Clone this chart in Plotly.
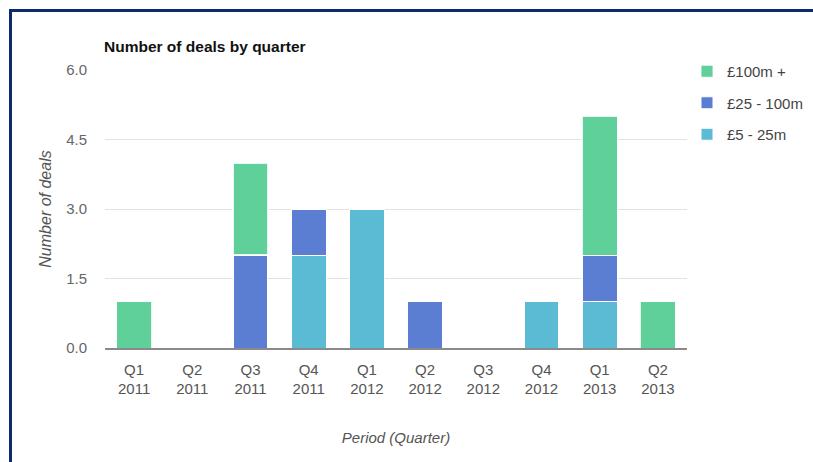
import plotly.graph_objects as go

# Quarterly deal counts split by deal size band
quarters = ["Q1<br>2011", "Q2<br>2011", "Q3<br>2011", "Q4<br>2011", "Q1<br>2012",
            "Q2<br>2012", "Q3<br>2012", "Q4<br>2012", "Q1<br>2013", "Q2<br>2013"]
deals_5_25m = [0, 0, 0, 2, 3, 0, 0, 1, 1, 0]
deals_25_100m = [0, 0, 2, 1, 0, 1, 0, 0, 1, 0]
deals_100m_plus = [1, 0, 2, 0, 0, 0, 0, 0, 3, 1]
y_ticks = [0, 1.5, 3.0, 4.5, 6.0]
y_tick_labels = ["0.0", "1.5", "3.0", "4.5", "6.0"]

GREEN = "#60d09b"
BLUE = "#5b7ed2"
LIGHT_BLUE = "#5bbad4"

fig = go.Figure()
fig.add_trace(go.Bar(x=quarters, y=deals_5_25m, name="£5 - 25m",
                     marker=dict(color=LIGHT_BLUE, line=dict(color="white", width=1)),
                     legendgroup="c", legendrank=3))
fig.add_trace(go.Bar(x=quarters, y=deals_25_100m, name="£25 - 100m",
                     marker=dict(color=BLUE, line=dict(color="white", width=1)),
                     legendgroup="b", legendrank=2))
# the Q3 2011 segment is drawn with a highlighted outline
highlight = [2.0 if q == "Q3<br>2011" else 1.0 for q in quarters]
fig.add_trace(go.Bar(x=quarters, y=deals_100m_plus, name="£100m +",
                     marker=dict(color=GREEN, line=dict(color="rgba(255,255,255,0.85)", width=highlight)),
                     legendgroup="a", legendrank=1))

L, R, T, B = 105, 126, 70, 114
W, H = 813, 462
pw, ph = W - L - R, H - T - B

def px_x(p):
    return (p - L) / pw

def px_y(p):
    return (H - B - p) / ph

navy = "#0d2a6e"
fig.add_shape(type="line", xref="paper", yref="paper",
              x0=px_x(10.5), x1=px_x(10.5), y0=px_y(10), y1=px_y(470),
              line=dict(color=navy, width=3))
fig.add_shape(type="line", xref="paper", yref="paper",
              x0=px_x(9), x1=px_x(820), y0=px_y(10.5), y1=px_y(10.5),
              line=dict(color=navy, width=3))

fig.update_layout(
    width=W, height=H,
    margin=dict(l=L, r=R, t=T, b=B, autoexpand=False),
    paper_bgcolor="white", plot_bgcolor="white",
    barmode="stack", bargap=0.4,
    font=dict(family="Liberation Sans, Arial, sans-serif", size=15, color="#555555"),
    title=dict(text="<b>Number of deals by quarter</b>", x=104 / W,
               xanchor="left", y=1 - 47 / H, yanchor="middle",
               font=dict(size=15.5, color="#111111")),
    showlegend=True,
    legend=dict(x=px_x(687), xanchor="left", y=px_y(55), yanchor="top",
                traceorder="grouped", tracegroupgap=9,
                font=dict(size=15, color="#444444"), bgcolor="rgba(0,0,0,0)"),
    xaxis=dict(showgrid=False, showline=True, linecolor="#8a8a8a", linewidth=1.5,
               ticks="outside", ticklen=7, tickcolor="white",
               tickfont=dict(size=15, color="#555555"),
               title=dict(text="<i>Period (Quarter)</i>", standoff=36,
                          font=dict(size=15, color="#555555"))),
    yaxis=dict(range=[0, 6], tickvals=y_ticks, ticktext=y_tick_labels,
               showgrid=True, gridcolor="#e2e2e2", gridwidth=1, zeroline=False,
               showline=False, ticks="outside", ticklen=14, tickcolor="white",
               tickfont=dict(size=15, color="#666666"),
               title=dict(text="<i>Number of deals</i>", standoff=10,
                          font=dict(size=16, color="#555555"))),
)

fig.write_html("out.html")
